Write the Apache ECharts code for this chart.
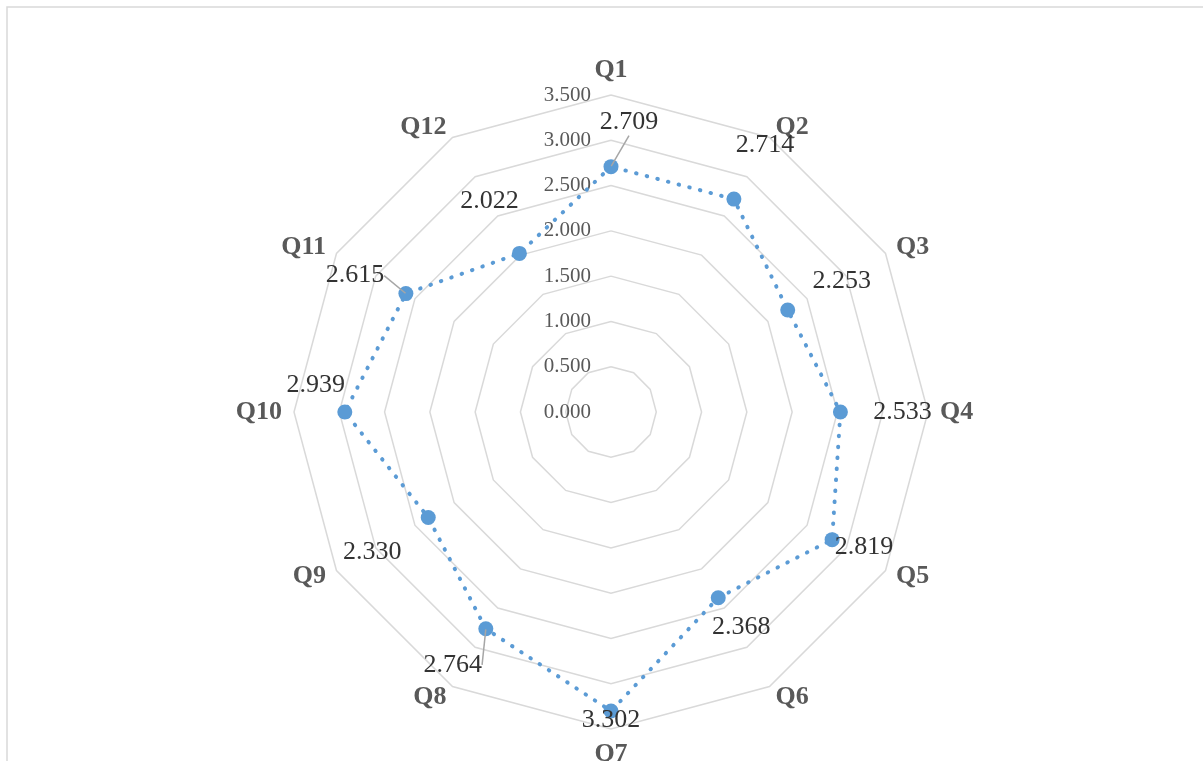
<!DOCTYPE html>
<html><head><meta charset="utf-8">
<script src="https://cdn.jsdelivr.net/npm/echarts@6/dist/echarts.min.js"></script>
<style>html,body{margin:0;padding:0;background:#fff;overflow:hidden}#c{width:1203px;height:761px}</style>
</head><body><div id="c"></div>
<script>
const categories = ['Q1','Q2','Q3','Q4','Q5','Q6','Q7','Q8','Q9','Q10','Q11','Q12'];
const values = [2.709, 2.714, 2.253, 2.533, 2.819, 2.368, 3.302, 2.764, 2.330, 2.939, 2.615, 2.022];
const axisMin = 0;
const axisMax = 3.5;
const axisStep = 0.5;

// label offsets (style only): dx, dy from the point to the label centre
const labelOffsets = [[18,-44],[31,-54],[54,-29],[62,0],[32,8],[23,29],[0,9],[-33,36],[-56,35],[-29,-27],[-51,-18],[-30,-52]];
const leader = [true,false,false,false,false,false,false,true,false,false,true,false];

const FONT = 'Liberation Serif';
const CENTER = [611, 412];
const RADIUS = 317;

// ECharts radar places indicators counter-clockwise; list them so they run clockwise
const order = [0].concat(categories.map((_, i) => i).slice(1).reverse());

const chart = echarts.init(document.getElementById('c'), null, {renderer: 'canvas'});
chart.setOption({
  backgroundColor: '#fff',
  animation: false,
  graphic: [{
    type: 'rect', shape: {x: 7, y: 7, width: 1300, height: 900},
    style: {fill: 'none', stroke: '#D9D9D9', lineWidth: 1.5}, z: -1
  }],
  radar: {
    center: CENTER, radius: RADIUS, startAngle: 90, splitNumber: Math.round((axisMax - axisMin) / axisStep),
    shape: 'polygon',
    indicator: order.map(i => ({name: categories[i], min: axisMin, max: axisMax})),
    nameGap: 12,
    axisName: {color: '#595959', fontSize: 26, fontWeight: 'bold', fontFamily: FONT},
    splitLine: {lineStyle: {color: '#D9D9D9', width: 1.5}},
    splitArea: {show: false},
    axisLine: {show: false},
    axisTick: {show: false},
    axisLabel: {show: false}
  },
  polar: {center: CENTER, radius: RADIUS},
  angleAxis: {
    type: 'category', data: categories, startAngle: 90, clockwise: true, boundaryGap: false,
    axisLine: {show: false}, axisTick: {show: false}, axisLabel: {show: false}, splitLine: {show: false}
  },
  radiusAxis: {
    type: 'value', min: axisMin, max: axisMax, interval: axisStep,
    axisLine: {show: false}, axisTick: {show: false}, splitLine: {show: false},
    axisLabel: {formatter: v => v.toFixed(3), color: '#595959', fontSize: 21, fontFamily: FONT, margin: 20}
  },
  series: [{
    type: 'radar',
    symbol: 'circle', symbolSize: 15,
    lineStyle: {color: '#5B9BD5', width: 4, type: [0.5, 10.5], cap: 'round'},
    itemStyle: {color: '#5B9BD5'},
    label: {show: false},
    data: [{value: order.map(i => values[i])}]
  }, {
    type: 'scatter', coordinateSystem: 'polar',
    symbolSize: 1, itemStyle: {color: 'rgba(0,0,0,0)'},
    label: {show: true, position: 'inside', formatter: p => p.value[0].toFixed(3),
      color: '#333333', opacity: 1, fontSize: 26, fontFamily: FONT, textBorderWidth: 0},
    labelLayout: p => ({dx: labelOffsets[p.dataIndex][0], dy: labelOffsets[p.dataIndex][1]}),
    data: values.map((v, i) => ({
      value: [v, i],
      labelLine: {show: leader[i], lineStyle: {color: '#A6A6A6', width: 1.5}}
    })),
    z: 5
  }]
});
</script></body></html>
